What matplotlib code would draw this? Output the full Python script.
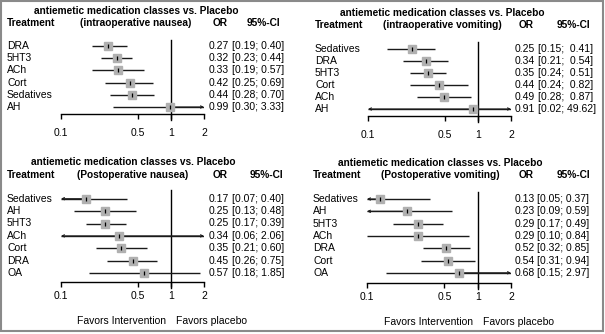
import numpy as np
import matplotlib.pyplot as plt
from matplotlib.transforms import blended_transform_factory
from matplotlib.patches import Rectangle

plt.rcParams['font.family'] = ['Liberation Sans', 'DejaVu Sans']

W, H = 605, 334
FS = 7.5
FSB = 7.3

# ---- data (odds ratios with 95% CI) ----
tl_names = ['DRA', '5HT3', 'ACh', 'Cort', 'Sedatives', 'AH']
tl_or = [0.27, 0.32, 0.33, 0.42, 0.44, 0.99]
tl_lo = [0.19, 0.23, 0.19, 0.25, 0.28, 0.30]
tl_hi = [0.40, 0.44, 0.57, 0.69, 0.70, 3.33]

tr_names = ['Sedatives', 'DRA', '5HT3', 'Cort', 'ACh', 'AH']
tr_or = [0.25, 0.34, 0.35, 0.44, 0.49, 0.91]
tr_lo = [0.15, 0.21, 0.24, 0.24, 0.28, 0.02]
tr_hi = [0.41, 0.54, 0.51, 0.82, 0.87, 49.62]

bl_names = ['Sedatives', 'AH', '5HT3', 'ACh', 'Cort', 'DRA', 'OA']
bl_or = [0.17, 0.25, 0.25, 0.34, 0.35, 0.45, 0.57]
bl_lo = [0.07, 0.13, 0.17, 0.06, 0.21, 0.26, 0.18]
bl_hi = [0.40, 0.48, 0.39, 2.06, 0.60, 0.75, 1.85]

br_names = ['Sedatives', 'AH', '5HT3', 'ACh', 'DRA', 'Cort', 'OA']
br_or = [0.13, 0.23, 0.29, 0.29, 0.52, 0.54, 0.68]
br_lo = [0.05, 0.09, 0.17, 0.10, 0.32, 0.31, 0.15]
br_hi = [0.37, 0.59, 0.49, 0.84, 0.85, 0.94, 2.97]

ticks = [0.1, 0.5, 1, 2]
tick_labels = ['0.1', '0.5', '1', '2']

fig = plt.figure(figsize=(W / 100, H / 100), dpi=100)
PT = 100 / 72  # pixels per point


def fx(px):
    return px / W


def fy(py):
    return 1 - py / H


def panel(names, ors, los, his, subtitle, x0, x2, r0, step, axis_y, top_y,
          title_y, head_y, tick_y, left, sub_x, or_x, ci_x, cihead_x, favors_y=None):
    n = len(names)
    ax = fig.add_axes([fx(x0), fy(axis_y), fx(x2 - x0), (axis_y - top_y) / H])
    ax.set_xscale('log')
    ax.set_xlim(0.1, 2)
    ax.set_ylim((axis_y - r0) / step, (top_y - r0) / step)
    ax.patch.set_visible(False)
    for s in ['top', 'right', 'left']:
        ax.spines[s].set_visible(False)
    ax.spines['bottom'].set_linewidth(1.0)
    ax.set_yticks([])
    ax.set_xticks(ticks)
    ax.set_xticklabels(tick_labels)
    ax.minorticks_off()
    tick_len = 5
    pad_px = tick_y - 5 - axis_y - tick_len
    ax.tick_params(axis='x', length=tick_len / PT, width=1.0, labelsize=FS,
                   pad=pad_px / PT)

    tick_frac = (tick_len + 1) / (axis_y - top_y)
    ax.axvline(1, ymin=-tick_frac, ymax=1, color='black', lw=1.0, clip_on=False)

    for i in range(n):
        lo = max(los[i], 0.1)
        hi = min(his[i], 2)
        ax.plot([lo, hi], [i, i], color='#1a1a1a', lw=1.0, solid_capstyle='butt', zorder=2)
        if los[i] < 0.1:
            ax.annotate('', xy=(0.1, i), xytext=(ors[i], i),
                        arrowprops=dict(arrowstyle='->', lw=0.8, color='#1a1a1a',
                                        mutation_scale=4, shrinkA=0, shrinkB=0))
        if his[i] > 2:
            ax.annotate('', xy=(2, i), xytext=(ors[i], i),
                        arrowprops=dict(arrowstyle='->', lw=0.8, color='#1a1a1a',
                                        mutation_scale=4, shrinkA=0, shrinkB=0))
        ax.plot(ors[i], i, marker='s', ms=6.3, color='#b0b0b0', mec='#b0b0b0', zorder=3)
        ax.plot(ors[i], i, marker='|', ms=2.5, mew=0.9, color='black', zorder=4)

    tr = blended_transform_factory(fig.transFigure, ax.transData)
    hw = max(len('%.2f' % h) for h in his)
    for i in range(n):
        ax.text(fx(left), i, names[i], transform=tr, fontsize=FS, va='center', ha='left')
        ax.text(fx(or_x), i, '%.2f' % ors[i], transform=tr, fontsize=FS, va='center', ha='right')
        ci = '[%.2f; %s]' % (los[i], ('%.2f' % his[i]).rjust(hw))
        ax.text(fx(ci_x), i, ci, transform=tr, fontsize=FS, va='center', ha='left')

    fig.text(fx(sub_x), fy(title_y), 'antiemetic medication classes vs. Placebo',
             fontsize=FSB, fontweight='bold', ha='center', va='center')
    fig.text(fx(left), fy(head_y), 'Treatment', fontsize=FSB, fontweight='bold', va='center')
    fig.text(fx(sub_x), fy(head_y), subtitle, fontsize=FSB, fontweight='bold',
             ha='center', va='center')
    fig.text(fx(or_x - 1), fy(head_y), 'OR', fontsize=FSB, fontweight='bold',
             ha='right', va='center')
    fig.text(fx(cihead_x), fy(head_y), '95%-CI', fontsize=FSB, fontweight='bold',
             ha='right', va='center')
    if favors_y is not None:
        x1 = x0 + (x2 - x0) * (0 - np.log10(0.1)) / (np.log10(2) - np.log10(0.1))
        fig.text(fx(x1 - 5), fy(favors_y), 'Favors Intervention', fontsize=FS,
                 ha='right', va='center')
        fig.text(fx(x1 + 5), fy(favors_y), 'Favors placebo', fontsize=FS,
                 ha='left', va='center')
    return ax


panel(tl_names, tl_or, tl_lo, tl_hi, '(intraoperative nausea)',
      61, 204, 46, 12.2, 114, 40, 11.5, 23.5, 133,
      7, 136, 229, 232, 280)
panel(tr_names, tr_or, tr_lo, tr_hi, '(intraoperative vomiting)',
      368, 511, 49, 12.0, 116, 42, 13, 25, 135,
      315, 442, 535, 538, 590)
panel(bl_names, bl_or, bl_lo, bl_hi, '(Postoperative nausea)',
      61, 204, 198.7, 12.4, 282, 190, 162, 174.5, 296,
      7, 133, 229, 232, 283, favors_y=321)
panel(br_names, br_or, br_lo, br_hi, '(Postoperative vomiting)',
      367, 511, 199, 12.3, 283, 192, 163, 174.5, 297,
      313, 440, 535, 537, 590, favors_y=322)

fig.patches.append(Rectangle((1 / W, 3 / H), 602 / W, 330 / H, transform=fig.transFigure,
                             fill=False, edgecolor='#8a8a8a', lw=1.5))

fig.savefig('out.png', dpi=100)
